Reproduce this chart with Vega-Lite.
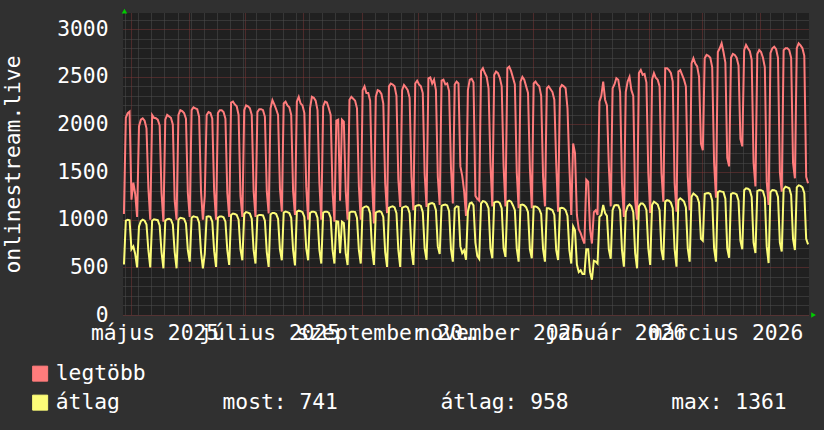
{
"$schema": "https://vega.github.io/schema/vega-lite/v6.json",
"width": 686, "height": 302,
"autosize": {"type": "none"},
"padding": {"left": 123, "top": 13, "right": 15, "bottom": 115},
"background": "#303030",
"config": {
 "font": "DejaVu Sans Mono",
 "view": {"fill": "#202020", "stroke": null},
 "axis": {"labelFont": "DejaVu Sans Mono", "labelFontSize": 21.3, "labelColor": "#ffffff", "titleFont": "DejaVu Sans Mono", "titleFontSize": 21.3, "titleColor": "#ffffff", "titleFontWeight": "normal"},
 "legend": {"labelFont": "DejaVu Sans Mono", "labelFontSize": 21.3, "labelColor": "#ffffff"}
},
"data": {"values": [
{"t":"2025-04-27T12:00","max":1060,"avg":530},
{"t":"2025-04-28T12:00","max":2070,"avg":990},{"t":"2025-04-29T12:00","max":2120,"avg":1000},{"t":"2025-04-30T12:00","max":2135,"avg":995},{"t":"2025-05-01T12:00","max":1210,"avg":690},{"t":"2025-05-02T12:00","max":1390,"avg":720},{"t":"2025-05-03T12:00","max":1270,"avg":640},{"t":"2025-05-04T12:00","max":1030,"avg":500},
{"t":"2025-05-05T12:00","max":1980,"avg":930},{"t":"2025-05-06T12:00","max":2050,"avg":985},{"t":"2025-05-07T12:00","max":2065,"avg":1000},{"t":"2025-05-08T12:00","max":2040,"avg":990},{"t":"2025-05-09T12:00","max":1960,"avg":950},{"t":"2025-05-10T12:00","max":1330,"avg":680},{"t":"2025-05-11T12:00","max":1000,"avg":500},
{"t":"2025-05-12T12:00","max":2100,"avg":990},{"t":"2025-05-13T12:00","max":2070,"avg":1005},{"t":"2025-05-14T12:00","max":2065,"avg":1000},{"t":"2025-05-15T12:00","max":2050,"avg":995},{"t":"2025-05-16T12:00","max":1990,"avg":940},{"t":"2025-05-17T12:00","max":1280,"avg":660},{"t":"2025-05-18T12:00","max":980,"avg":490},
{"t":"2025-05-19T12:00","max":2050,"avg":990},{"t":"2025-05-20T12:00","max":2100,"avg":1005},{"t":"2025-05-21T12:00","max":2085,"avg":1010},{"t":"2025-05-22T12:00","max":2070,"avg":1000},{"t":"2025-05-23T12:00","max":2000,"avg":950},{"t":"2025-05-24T12:00","max":1200,"avg":660},{"t":"2025-05-25T12:00","max":1000,"avg":490},
{"t":"2025-05-26T12:00","max":2100,"avg":1000},{"t":"2025-05-27T12:00","max":2150,"avg":1020},{"t":"2025-05-28T12:00","max":2140,"avg":1015},{"t":"2025-05-29T12:00","max":2120,"avg":1010},{"t":"2025-05-30T12:00","max":2060,"avg":960},{"t":"2025-05-31T12:00","max":1280,"avg":680},{"t":"2025-06-01T12:00","max":1030,"avg":560},
{"t":"2025-06-02T12:00","max":2150,"avg":1020},{"t":"2025-06-03T12:00","max":2180,"avg":1035},{"t":"2025-06-04T12:00","max":2170,"avg":1030},{"t":"2025-06-05T12:00","max":2160,"avg":1025},{"t":"2025-06-06T12:00","max":2080,"avg":970},{"t":"2025-06-07T12:00","max":1300,"avg":660},{"t":"2025-06-08T12:00","max":1000,"avg":490},
{"t":"2025-06-09T12:00","max":1250,"avg":640},{"t":"2025-06-10T12:00","max":2100,"avg":1030},{"t":"2025-06-11T12:00","max":2130,"avg":1035},{"t":"2025-06-12T12:00","max":2120,"avg":1030},{"t":"2025-06-13T12:00","max":2060,"avg":980},{"t":"2025-06-14T12:00","max":1300,"avg":670},{"t":"2025-06-15T12:00","max":1000,"avg":505},
{"t":"2025-06-16T12:00","max":2120,"avg":1020},{"t":"2025-06-17T12:00","max":2150,"avg":1035},{"t":"2025-06-18T12:00","max":2150,"avg":1035},{"t":"2025-06-19T12:00","max":2130,"avg":1025},{"t":"2025-06-20T12:00","max":2060,"avg":980},{"t":"2025-06-21T12:00","max":1280,"avg":680},{"t":"2025-06-22T12:00","max":1030,"avg":525},
{"t":"2025-06-23T12:00","max":2230,"avg":1050},{"t":"2025-06-24T12:00","max":2240,"avg":1065},{"t":"2025-06-25T12:00","max":2210,"avg":1060},{"t":"2025-06-26T12:00","max":2190,"avg":1050},{"t":"2025-06-27T12:00","max":2100,"avg":1000},{"t":"2025-06-28T12:00","max":1250,"avg":690},{"t":"2025-06-29T12:00","max":1030,"avg":575},
{"t":"2025-06-30T12:00","max":2150,"avg":1060},{"t":"2025-07-01T12:00","max":2200,"avg":1080},{"t":"2025-07-02T12:00","max":2190,"avg":1075},{"t":"2025-07-03T12:00","max":2170,"avg":1065},{"t":"2025-07-04T12:00","max":2100,"avg":1010},{"t":"2025-07-05T12:00","max":1300,"avg":680},{"t":"2025-07-06T12:00","max":1030,"avg":540},
{"t":"2025-07-07T12:00","max":2130,"avg":1040},{"t":"2025-07-08T12:00","max":2160,"avg":1050},{"t":"2025-07-09T12:00","max":2160,"avg":1050},{"t":"2025-07-10T12:00","max":2150,"avg":1045},{"t":"2025-07-11T12:00","max":2080,"avg":990},{"t":"2025-07-12T12:00","max":1300,"avg":660},{"t":"2025-07-13T12:00","max":1065,"avg":505},
{"t":"2025-07-14T12:00","max":2170,"avg":1055},{"t":"2025-07-15T12:00","max":2255,"avg":1070},{"t":"2025-07-16T12:00","max":2210,"avg":1070},{"t":"2025-07-17T12:00","max":2160,"avg":1060},{"t":"2025-07-18T12:00","max":2100,"avg":1010},{"t":"2025-07-19T12:00","max":1330,"avg":690},{"t":"2025-07-20T12:00","max":1085,"avg":575},
{"t":"2025-07-21T12:00","max":2220,"avg":1075},{"t":"2025-07-22T12:00","max":2240,"avg":1085},{"t":"2025-07-23T12:00","max":2200,"avg":1080},{"t":"2025-07-24T12:00","max":2180,"avg":1070},{"t":"2025-07-25T12:00","max":2100,"avg":1020},{"t":"2025-07-26T12:00","max":1300,"avg":680},{"t":"2025-07-27T12:00","max":1050,"avg":520},
{"t":"2025-07-28T12:00","max":2240,"avg":1085},{"t":"2025-07-29T12:00","max":2290,"avg":1095},{"t":"2025-07-30T12:00","max":2220,"avg":1090},{"t":"2025-07-31T12:00","max":2200,"avg":1080},{"t":"2025-08-01T12:00","max":2120,"avg":1030},{"t":"2025-08-02T12:00","max":1350,"avg":700},{"t":"2025-08-03T12:00","max":1000,"avg":575},
{"t":"2025-08-04T12:00","max":2170,"avg":1070},{"t":"2025-08-05T12:00","max":2290,"avg":1085},{"t":"2025-08-06T12:00","max":2280,"avg":1085},{"t":"2025-08-07T12:00","max":2250,"avg":1075},{"t":"2025-08-08T12:00","max":2150,"avg":1020},{"t":"2025-08-09T12:00","max":1380,"avg":680},{"t":"2025-08-10T12:00","max":1000,"avg":540},
{"t":"2025-08-11T12:00","max":2190,"avg":1075},{"t":"2025-08-12T12:00","max":2240,"avg":1085},{"t":"2025-08-13T12:00","max":2230,"avg":1085},{"t":"2025-08-14T12:00","max":2170,"avg":1075},{"t":"2025-08-15T12:00","max":2100,"avg":1020},{"t":"2025-08-16T12:00","max":1300,"avg":680},{"t":"2025-08-17T12:00","max":980,"avg":540},
{"t":"2025-08-18T12:00","max":2040,"avg":985},{"t":"2025-08-19T12:00","max":2050,"avg":980},{"t":"2025-08-20T12:00","max":1200,"avg":650},{"t":"2025-08-21T12:00","max":2050,"avg":980},{"t":"2025-08-22T12:00","max":2030,"avg":965},{"t":"2025-08-23T12:00","max":1300,"avg":650},{"t":"2025-08-24T12:00","max":1000,"avg":525},
{"t":"2025-08-25T12:00","max":2260,"avg":1075},{"t":"2025-08-26T12:00","max":2290,"avg":1085},{"t":"2025-08-27T12:00","max":2270,"avg":1085},{"t":"2025-08-28T12:00","max":2250,"avg":1080},{"t":"2025-08-29T12:00","max":2170,"avg":1020},{"t":"2025-08-30T12:00","max":1350,"avg":680},{"t":"2025-08-31T12:00","max":1000,"avg":540},
{"t":"2025-09-01T12:00","max":2360,"avg":1120},{"t":"2025-09-02T12:00","max":2400,"avg":1135},{"t":"2025-09-03T12:00","max":2330,"avg":1140},{"t":"2025-09-04T12:00","max":2330,"avg":1130},{"t":"2025-09-05T12:00","max":2250,"avg":1070},{"t":"2025-09-06T12:00","max":1420,"avg":690},{"t":"2025-09-07T12:00","max":960,"avg":525},
{"t":"2025-09-08T12:00","max":2290,"avg":1075},{"t":"2025-09-09T12:00","max":2360,"avg":1085},{"t":"2025-09-10T12:00","max":2350,"avg":1090},{"t":"2025-09-11T12:00","max":2320,"avg":1080},{"t":"2025-09-12T12:00","max":2220,"avg":1030},{"t":"2025-09-13T12:00","max":1380,"avg":660},{"t":"2025-09-14T12:00","max":1070,"avg":505},
{"t":"2025-09-15T12:00","max":2400,"avg":1125},{"t":"2025-09-16T12:00","max":2430,"avg":1135},{"t":"2025-09-17T12:00","max":2420,"avg":1140},{"t":"2025-09-18T12:00","max":2400,"avg":1130},{"t":"2025-09-19T12:00","max":2300,"avg":1070},{"t":"2025-09-20T12:00","max":1420,"avg":680},{"t":"2025-09-21T12:00","max":1135,"avg":505},
{"t":"2025-09-22T12:00","max":2360,"avg":1125},{"t":"2025-09-23T12:00","max":2415,"avg":1135},{"t":"2025-09-24T12:00","max":2390,"avg":1140},{"t":"2025-09-25T12:00","max":2360,"avg":1130},{"t":"2025-09-26T12:00","max":2280,"avg":1070},{"t":"2025-09-27T12:00","max":1450,"avg":680},{"t":"2025-09-28T12:00","max":1100,"avg":525},
{"t":"2025-09-29T12:00","max":2430,"avg":1140},{"t":"2025-09-30T12:00","max":2460,"avg":1150},{"t":"2025-10-01T12:00","max":2420,"avg":1155},{"t":"2025-10-02T12:00","max":2400,"avg":1145},{"t":"2025-10-03T12:00","max":2330,"avg":1080},{"t":"2025-10-04T12:00","max":1480,"avg":700},{"t":"2025-10-05T12:00","max":1135,"avg":580},
{"t":"2025-10-06T12:00","max":2485,"avg":1160},{"t":"2025-10-07T12:00","max":2495,"avg":1170},{"t":"2025-10-08T12:00","max":2430,"avg":1175},{"t":"2025-10-09T12:00","max":2470,"avg":1165},{"t":"2025-10-10T12:00","max":2360,"avg":1100},{"t":"2025-10-11T12:00","max":1450,"avg":720},{"t":"2025-10-12T12:00","max":1155,"avg":640},
{"t":"2025-10-13T12:00","max":2460,"avg":1145},{"t":"2025-10-14T12:00","max":2470,"avg":1155},{"t":"2025-10-15T12:00","max":2420,"avg":1160},{"t":"2025-10-16T12:00","max":2430,"avg":1150},{"t":"2025-10-17T12:00","max":2350,"avg":1090},{"t":"2025-10-18T12:00","max":1550,"avg":690},{"t":"2025-10-19T12:00","max":1170,"avg":560},
{"t":"2025-10-20T12:00","max":2420,"avg":1120},{"t":"2025-10-21T12:00","max":2450,"avg":1140},{"t":"2025-10-22T12:00","max":2430,"avg":1135},{"t":"2025-10-23T12:00","max":1560,"avg":720},{"t":"2025-10-24T12:00","max":1460,"avg":650},{"t":"2025-10-25T12:00","max":1300,"avg":680},{"t":"2025-10-26T12:00","max":1040,"avg":580},
{"t":"2025-10-27T12:00","max":2360,"avg":1085},{"t":"2025-10-28T12:00","max":2470,"avg":1170},{"t":"2025-10-29T12:00","max":2480,"avg":1180},{"t":"2025-10-30T12:00","max":2440,"avg":1150},{"t":"2025-10-31T12:00","max":1250,"avg":760},{"t":"2025-11-01T12:00","max":1220,"avg":620},{"t":"2025-11-02T12:00","max":1200,"avg":590},
{"t":"2025-11-03T12:00","max":2560,"avg":1170},{"t":"2025-11-04T12:00","max":2590,"avg":1195},{"t":"2025-11-05T12:00","max":2540,"avg":1190},{"t":"2025-11-06T12:00","max":2500,"avg":1170},{"t":"2025-11-07T12:00","max":2380,"avg":1120},{"t":"2025-11-08T12:00","max":1590,"avg":700},{"t":"2025-11-09T12:00","max":1140,"avg":595},
{"t":"2025-11-10T12:00","max":2520,"avg":1180},{"t":"2025-11-11T12:00","max":2555,"avg":1190},{"t":"2025-11-12T12:00","max":2540,"avg":1190},{"t":"2025-11-13T12:00","max":2490,"avg":1175},{"t":"2025-11-14T12:00","max":2400,"avg":1120},{"t":"2025-11-15T12:00","max":1560,"avg":700},{"t":"2025-11-16T12:00","max":1140,"avg":610},
{"t":"2025-11-17T12:00","max":2590,"avg":1190},{"t":"2025-11-18T12:00","max":2607,"avg":1200},{"t":"2025-11-19T12:00","max":2560,"avg":1190},{"t":"2025-11-20T12:00","max":2490,"avg":1150},{"t":"2025-11-21T12:00","max":2420,"avg":1100},{"t":"2025-11-22T12:00","max":1500,"avg":700},{"t":"2025-11-23T12:00","max":1120,"avg":560},
{"t":"2025-11-24T12:00","max":2450,"avg":1155},{"t":"2025-11-25T12:00","max":2500,"avg":1160},{"t":"2025-11-26T12:00","max":2470,"avg":1150},{"t":"2025-11-27T12:00","max":2400,"avg":1130},{"t":"2025-11-28T12:00","max":2330,"avg":1080},{"t":"2025-11-29T12:00","max":1540,"avg":690},{"t":"2025-11-30T12:00","max":1120,"avg":595},
{"t":"2025-12-01T12:00","max":2430,"avg":1140},{"t":"2025-12-02T12:00","max":2450,"avg":1140},{"t":"2025-12-03T12:00","max":2420,"avg":1130},{"t":"2025-12-04T12:00","max":2400,"avg":1110},{"t":"2025-12-05T12:00","max":2300,"avg":1060},{"t":"2025-12-06T12:00","max":1450,"avg":690},{"t":"2025-12-07T12:00","max":1140,"avg":560},
{"t":"2025-12-08T12:00","max":2380,"avg":1120},{"t":"2025-12-09T12:00","max":2400,"avg":1120},{"t":"2025-12-10T12:00","max":2370,"avg":1110},{"t":"2025-12-11T12:00","max":2340,"avg":1100},{"t":"2025-12-12T12:00","max":2260,"avg":1050},{"t":"2025-12-13T12:00","max":1590,"avg":680},{"t":"2025-12-14T12:00","max":1085,"avg":577},
{"t":"2025-12-15T12:00","max":2380,"avg":1120},{"t":"2025-12-16T12:00","max":2415,"avg":1125},{"t":"2025-12-17T12:00","max":2400,"avg":1120},{"t":"2025-12-18T12:00","max":2380,"avg":1100},{"t":"2025-12-19T12:00","max":2170,"avg":1040},{"t":"2025-12-20T12:00","max":1560,"avg":680},{"t":"2025-12-21T12:00","max":1050,"avg":540},
{"t":"2025-12-22T12:00","max":1800,"avg":930},{"t":"2025-12-23T12:00","max":1700,"avg":890},{"t":"2025-12-24T12:00","max":1050,"avg":530},{"t":"2025-12-25T12:00","max":900,"avg":450},{"t":"2025-12-26T12:00","max":860,"avg":470},{"t":"2025-12-27T12:00","max":800,"avg":430},{"t":"2025-12-28T12:00","max":750,"avg":430},
{"t":"2025-12-29T12:00","max":1420,"avg":690},{"t":"2025-12-30T12:00","max":1400,"avg":690},{"t":"2025-12-31T12:00","max":900,"avg":450},{"t":"2026-01-01T12:00","max":750,"avg":370},{"t":"2026-01-02T12:00","max":1080,"avg":570},{"t":"2026-01-03T12:00","max":1100,"avg":560},{"t":"2026-01-04T12:00","max":1050,"avg":540},
{"t":"2026-01-05T12:00","max":2240,"avg":1030},{"t":"2026-01-06T12:00","max":2300,"avg":1050},{"t":"2026-01-07T12:00","max":2450,"avg":1155},{"t":"2026-01-08T12:00","max":2260,"avg":1070},{"t":"2026-01-09T12:00","max":2200,"avg":1040},{"t":"2026-01-10T12:00","max":1560,"avg":690},{"t":"2026-01-11T12:00","max":1140,"avg":590},
{"t":"2026-01-12T12:00","max":2380,"avg":1100},{"t":"2026-01-13T12:00","max":2420,"avg":1150},{"t":"2026-01-14T12:00","max":2485,"avg":1155},{"t":"2026-01-15T12:00","max":2470,"avg":1150},{"t":"2026-01-16T12:00","max":2340,"avg":1100},{"t":"2026-01-17T12:00","max":1380,"avg":680},{"t":"2026-01-18T12:00","max":1030,"avg":507},
{"t":"2026-01-19T12:00","max":2340,"avg":1080},{"t":"2026-01-20T12:00","max":2450,"avg":1140},{"t":"2026-01-21T12:00","max":2500,"avg":1160},{"t":"2026-01-22T12:00","max":2360,"avg":1140},{"t":"2026-01-23T12:00","max":2300,"avg":1080},{"t":"2026-01-24T12:00","max":1200,"avg":650},{"t":"2026-01-25T12:00","max":1000,"avg":490},
{"t":"2026-01-26T12:00","max":2540,"avg":1140},{"t":"2026-01-27T12:00","max":2572,"avg":1170},{"t":"2026-01-28T12:00","max":2520,"avg":1170},{"t":"2026-01-29T12:00","max":2530,"avg":1150},{"t":"2026-01-30T12:00","max":2440,"avg":1100},{"t":"2026-01-31T12:00","max":1490,"avg":700},{"t":"2026-02-01T12:00","max":1070,"avg":525},
{"t":"2026-02-02T12:00","max":2470,"avg":1155},{"t":"2026-02-03T12:00","max":2540,"avg":1190},{"t":"2026-02-04T12:00","max":2490,"avg":1175},{"t":"2026-02-05T12:00","max":2470,"avg":1160},{"t":"2026-02-06T12:00","max":2400,"avg":1100},{"t":"2026-02-07T12:00","max":1490,"avg":680},{"t":"2026-02-08T12:00","max":1190,"avg":577},
{"t":"2026-02-09T12:00","max":2590,"avg":1190},{"t":"2026-02-10T12:00","max":2590,"avg":1205},{"t":"2026-02-11T12:00","max":2570,"avg":1200},{"t":"2026-02-12T12:00","max":2540,"avg":1180},{"t":"2026-02-13T12:00","max":2450,"avg":1120},{"t":"2026-02-14T12:00","max":1380,"avg":690},{"t":"2026-02-15T12:00","max":1085,"avg":507},
{"t":"2026-02-16T12:00","max":2555,"avg":1205},{"t":"2026-02-17T12:00","max":2570,"avg":1225},{"t":"2026-02-18T12:00","max":2520,"avg":1210},{"t":"2026-02-19T12:00","max":2470,"avg":1190},{"t":"2026-02-20T12:00","max":2400,"avg":1130},{"t":"2026-02-21T12:00","max":1450,"avg":700},{"t":"2026-02-22T12:00","max":1100,"avg":560},
{"t":"2026-02-23T12:00","max":2640,"avg":1240},{"t":"2026-02-24T12:00","max":2695,"avg":1275},{"t":"2026-02-25T12:00","max":2640,"avg":1260},{"t":"2026-02-26T12:00","max":2610,"avg":1240},{"t":"2026-02-27T12:00","max":2500,"avg":1180},{"t":"2026-02-28T12:00","max":1800,"avg":800},{"t":"2026-03-01T12:00","max":1730,"avg":780},
{"t":"2026-03-02T12:00","max":2695,"avg":1270},{"t":"2026-03-03T12:00","max":2730,"avg":1277},{"t":"2026-03-04T12:00","max":2720,"avg":1280},{"t":"2026-03-05T12:00","max":2700,"avg":1270},{"t":"2026-03-06T12:00","max":2600,"avg":1200},{"t":"2026-03-07T12:00","max":1600,"avg":700},{"t":"2026-03-08T12:00","max":1230,"avg":560},
{"t":"2026-03-09T12:00","max":2760,"avg":1290},{"t":"2026-03-10T12:00","max":2800,"avg":1300},{"t":"2026-03-11T12:00","max":2852,"avg":1295},{"t":"2026-03-12T12:00","max":2760,"avg":1290},{"t":"2026-03-13T12:00","max":2650,"avg":1220},{"t":"2026-03-14T12:00","max":1650,"avg":700},{"t":"2026-03-15T12:00","max":1560,"avg":600},
{"t":"2026-03-16T12:00","max":2700,"avg":1270},{"t":"2026-03-17T12:00","max":2740,"avg":1280},{"t":"2026-03-18T12:00","max":2730,"avg":1277},{"t":"2026-03-19T12:00","max":2700,"avg":1265},{"t":"2026-03-20T12:00","max":2620,"avg":1200},{"t":"2026-03-21T12:00","max":1850,"avg":780},{"t":"2026-03-22T12:00","max":1770,"avg":690},
{"t":"2026-03-23T12:00","max":2780,"avg":1310},{"t":"2026-03-24T12:00","max":2835,"avg":1330},{"t":"2026-03-25T12:00","max":2800,"avg":1325},{"t":"2026-03-26T12:00","max":2770,"avg":1310},{"t":"2026-03-27T12:00","max":2680,"avg":1240},{"t":"2026-03-28T12:00","max":1600,"avg":760},{"t":"2026-03-29T12:00","max":1350,"avg":650},
{"t":"2026-03-30T12:00","max":2740,"avg":1300},{"t":"2026-03-31T12:00","max":2782,"avg":1312},{"t":"2026-04-01T12:00","max":2760,"avg":1310},{"t":"2026-04-02T12:00","max":2700,"avg":1300},{"t":"2026-04-03T12:00","max":2600,"avg":1230},{"t":"2026-04-04T12:00","max":1400,"avg":720},{"t":"2026-04-05T12:00","max":1155,"avg":545},
{"t":"2026-04-06T12:00","max":2750,"avg":1290},{"t":"2026-04-07T12:00","max":2800,"avg":1312},{"t":"2026-04-08T12:00","max":2817,"avg":1310},{"t":"2026-04-09T12:00","max":2790,"avg":1300},{"t":"2026-04-10T12:00","max":2700,"avg":1240},{"t":"2026-04-11T12:00","max":1500,"avg":760},{"t":"2026-04-12T12:00","max":1295,"avg":667},
{"t":"2026-04-13T12:00","max":2780,"avg":1320},{"t":"2026-04-14T12:00","max":2800,"avg":1347},{"t":"2026-04-15T12:00","max":2800,"avg":1340},{"t":"2026-04-16T12:00","max":2780,"avg":1330},{"t":"2026-04-17T12:00","max":2700,"avg":1260},{"t":"2026-04-18T12:00","max":1600,"avg":800},{"t":"2026-04-19T12:00","max":1435,"avg":682},
{"t":"2026-04-20T12:00","max":2800,"avg":1340},{"t":"2026-04-21T12:00","max":2852,"avg":1361},{"t":"2026-04-22T12:00","max":2830,"avg":1355},{"t":"2026-04-23T12:00","max":2800,"avg":1340},{"t":"2026-04-24T12:00","max":2720,"avg":1280},{"t":"2026-04-25T12:00","max":1450,"avg":800},{"t":"2026-04-26T12:00","max":1382,"avg":741}
]},
"layer": [
 {
  "transform": [{"fold": ["max", "avg"], "as": ["series", "value"]}],
  "mark": {"type": "line", "strokeWidth": 2},
  "encoding": {
   "x": {"field": "t", "type": "temporal",
    "scale": {"domain": [{"year": 2025, "month": 4, "date": 27}, {"year": 2026, "month": 4, "date": 27}]},
    "axis": {
     "title": null, "domain": false, "ticks": false, "grid": true, "tickCount": 1000,
     "gridDash": [1, 1],
     "gridColor": {"condition": {"test": "date(datum.value) === 1", "value": "#7a3636"}, "value": "#4e4e4e"},
     "values": [
      {"year":2025,"month":4,"date":28},{"year":2025,"month":5,"date":1},{"year":2025,"month":5,"date":5},{"year":2025,"month":5,"date":12},{"year":2025,"month":5,"date":19},{"year":2025,"month":5,"date":26},
      {"year":2025,"month":6,"date":1},{"year":2025,"month":6,"date":2},{"year":2025,"month":6,"date":9},{"year":2025,"month":6,"date":16},{"year":2025,"month":6,"date":23},{"year":2025,"month":6,"date":30},
      {"year":2025,"month":7,"date":1},{"year":2025,"month":7,"date":7},{"year":2025,"month":7,"date":14},{"year":2025,"month":7,"date":21},{"year":2025,"month":7,"date":28},
      {"year":2025,"month":8,"date":1},{"year":2025,"month":8,"date":4},{"year":2025,"month":8,"date":11},{"year":2025,"month":8,"date":18},{"year":2025,"month":8,"date":25},
      {"year":2025,"month":9,"date":1},{"year":2025,"month":9,"date":8},{"year":2025,"month":9,"date":15},{"year":2025,"month":9,"date":22},{"year":2025,"month":9,"date":29},
      {"year":2025,"month":10,"date":1},{"year":2025,"month":10,"date":6},{"year":2025,"month":10,"date":13},{"year":2025,"month":10,"date":20},{"year":2025,"month":10,"date":27},
      {"year":2025,"month":11,"date":1},{"year":2025,"month":11,"date":3},{"year":2025,"month":11,"date":10},{"year":2025,"month":11,"date":17},{"year":2025,"month":11,"date":24},
      {"year":2025,"month":12,"date":1},{"year":2025,"month":12,"date":8},{"year":2025,"month":12,"date":15},{"year":2025,"month":12,"date":22},{"year":2025,"month":12,"date":29},
      {"year":2026,"month":1,"date":1},{"year":2026,"month":1,"date":5},{"year":2026,"month":1,"date":12},{"year":2026,"month":1,"date":19},{"year":2026,"month":1,"date":26},
      {"year":2026,"month":2,"date":1},{"year":2026,"month":2,"date":2},{"year":2026,"month":2,"date":9},{"year":2026,"month":2,"date":16},{"year":2026,"month":2,"date":23},
      {"year":2026,"month":3,"date":1},{"year":2026,"month":3,"date":2},{"year":2026,"month":3,"date":9},{"year":2026,"month":3,"date":16},{"year":2026,"month":3,"date":23},{"year":2026,"month":3,"date":30},
      {"year":2026,"month":4,"date":1},{"year":2026,"month":4,"date":6},{"year":2026,"month":4,"date":13},{"year":2026,"month":4,"date":20}
     ],
     "labelExpr": "date(datum.value) === 1 && month(datum.value) % 2 === 0 ? ['január','február','március','április','május','június','július','augusztus','szeptember','október','november','december'][month(datum.value)] + ' ' + year(datum.value) : ''",
     "labelOffset": 24, "labelPadding": 7, "labelOverlap": false, "labelFlush": false, "labelBound": false, "labelAlign": "center"
    }
   },
   "y": {"field": "value", "type": "quantitative",
    "scale": {"domain": [0, 3170], "nice": false},
    "axis": {
     "title": "onlinestream.live", "titleX": -104, "titleY": 151, "titleAngle": -90, "titleAlign": "center", "titleBaseline": "alphabetic",
     "domain": false, "ticks": false, "grid": true, "gridDash": [1, 1], "tickCount": 1000,
     "gridColor": {"condition": {"test": "datum.value % 500 === 0", "value": "#7a3636"}, "value": "#4e4e4e"},
     "values": [0,100,200,300,400,500,600,700,800,900,1000,1100,1200,1300,1400,1500,1600,1700,1800,1900,2000,2100,2200,2300,2400,2500,2600,2700,2800,2900,3000,3100],
     "format": "d",
     "labelExpr": "datum.value % 500 === 0 ? datum.label : ''",
     "labelPadding": 15, "labelOverlap": false, "labelFlush": false, "labelBound": false
    }
   },
   "color": {"field": "series", "type": "nominal",
    "scale": {"domain": ["max", "avg"], "range": ["#ff7c7c", "#fcfc78"]},
    "legend": {
     "orient": "none", "legendX": -93.5, "legendY": 350, "title": null, "padding": 0,
     "direction": "vertical", "symbolType": "square", "symbolSize": 225,
     "symbolStrokeColor": "#000000", "symbolStrokeWidth": 1, "symbolOpacity": 1,
     "rowPadding": 7, "labelOffset": 5, "labelLimit": 900,
     "labelExpr": "datum.value === 'max' ? 'legtöbb' : 'átlag\u00a0\u00a0\u00a0\u00a0\u00a0\u00a0\u00a0\u00a0most: 741\u00a0\u00a0\u00a0\u00a0\u00a0\u00a0\u00a0\u00a0átlag: 958\u00a0\u00a0\u00a0\u00a0\u00a0\u00a0\u00a0\u00a0max: 1361'",
     "encode": {"symbols": {"update": {"fill": {"scale": "color", "field": "value"}, "stroke": {"value": "#000000"}, "strokeWidth": {"value": 1}}}}
    }
   }
  }
 },
 {
  "data": {"values": [{}]},
  "mark": {"type": "point", "shape": "triangle-up", "filled": true, "size": 30, "color": "#00cc00", "opacity": 1},
  "encoding": {
   "x": {"datum": {"year": 2025, "month": 4, "date": 27, "hours": 19}, "type": "temporal", "scale": {"domain": [{"year": 2025, "month": 4, "date": 27}, {"year": 2026, "month": 4, "date": 27}]}},
   "y": {"datum": 3190, "type": "quantitative", "scale": {"domain": [0, 3170], "nice": false}}
  }
 },
 {
  "data": {"values": [{}]},
  "mark": {"type": "point", "shape": "triangle-right", "filled": true, "size": 30, "color": "#00cc00", "opacity": 1},
  "encoding": {
   "x": {"datum": {"year": 2026, "month": 4, "date": 29, "hours": 10}, "type": "temporal", "scale": {"domain": [{"year": 2025, "month": 4, "date": 27}, {"year": 2026, "month": 4, "date": 27}]}},
   "y": {"datum": 0, "type": "quantitative", "scale": {"domain": [0, 3170], "nice": false}}
  }
 }
]
}
